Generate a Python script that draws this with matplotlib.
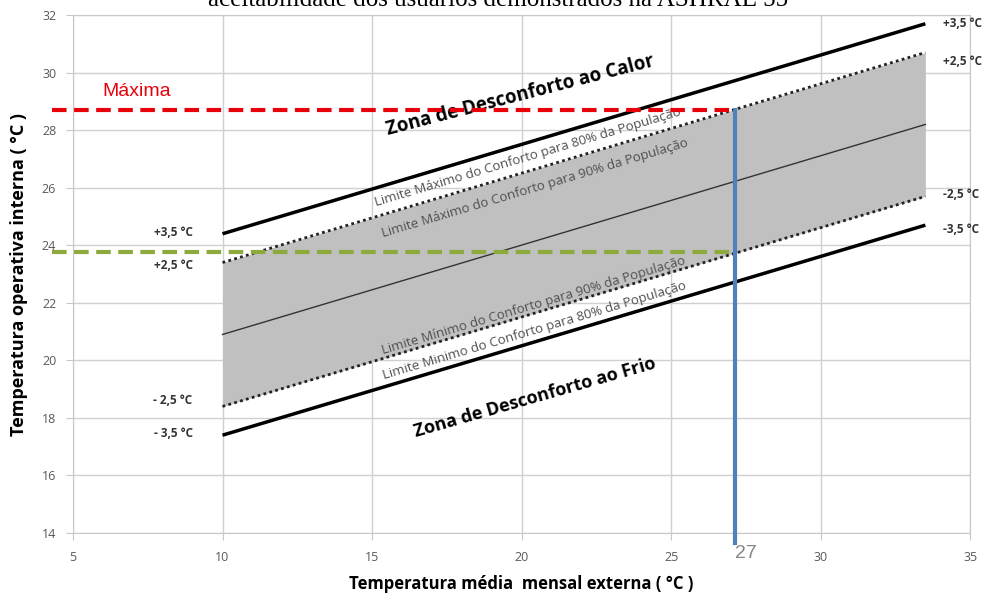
import matplotlib
matplotlib.use('Agg')
import matplotlib.pyplot as plt

# eixo x: temperatura media mensal externa
x_lim = [10, 33.5]
# limites (temperatura operativa interna)
linha_central = [20.9, 28.2]
lim_sup_80 = [24.4, 31.7]
lim_sup_90 = [23.4, 30.7]
lim_inf_90 = [18.4, 25.7]
lim_inf_80 = [17.4, 24.7]

t_maxima = 28.7
t_minima = 23.75
t_externa = 27.15

x_ticks = [5, 10, 15, 20, 25, 30, 35]
y_ticks = [14, 16, 18, 20, 22, 24, 26, 28, 30, 32]

plt.rcParams['font.family'] = ['Open Sans', 'DejaVu Sans']

fig = plt.figure(figsize=(9.86, 6.05), dpi=100)
ax = fig.add_axes([0.074, 0.119, 0.91, 0.856])

ax.fill_between(x_lim, lim_inf_90, lim_sup_90, color='#c0c0c0', lw=0, zorder=1)
ax.plot(x_lim, linha_central, color='#333333', lw=1.0, zorder=3)
ax.plot(x_lim, lim_sup_80, color='black', lw=2.5, zorder=3, solid_capstyle='butt')
ax.plot(x_lim, lim_inf_80, color='black', lw=2.5, zorder=3, solid_capstyle='butt')
ax.plot(x_lim, lim_sup_90, color='#222222', lw=2.0, ls=(0, (1, 1.2)), zorder=3)
ax.plot(x_lim, lim_inf_90, color='#222222', lw=2.0, ls=(0, (1, 1.2)), zorder=3)

# linhas de referencia
ax.plot([4.3, t_externa], [t_maxima, t_maxima], color='#e8000b', lw=3,
        ls=(0, (3.5, 1.8)), clip_on=False, zorder=5)
ax.plot([4.3, t_externa], [t_minima, t_minima], color='#8faa3c', lw=3,
        ls=(0, (3.5, 1.8)), clip_on=False, zorder=5)
ax.plot([t_externa, t_externa], [13.65, t_maxima], color='#4f81bd', lw=3,
        clip_on=False, zorder=6)

ax.text(t_externa, 13.3, '27', color='#858585', fontsize=14,
        ha='left', va='center', family=['Liberation Sans'])
ax.text(6.0, 29.36, 'Máxima', color='#e8000b', fontsize=14,
        ha='left', va='center', family=['Liberation Sans'])

# rotulos dos desvios
lbl = dict(fontsize=8.5, fontweight='bold', color='#333333', ha='right', va='center')
ax.text(9.0, 24.45, '+3,5 °C', **lbl)
ax.text(9.0, 23.3, '+2,5 °C', **lbl)
ax.text(9.0, 18.6, '- 2,5 °C', **lbl)
ax.text(9.0, 17.45, '- 3,5 °C', **lbl)
lbr = dict(fontsize=8.5, fontweight='bold', color='#333333', ha='left', va='center')
ax.text(34.1, 31.7, '+3,5 °C', **lbr)
ax.text(34.1, 30.4, '+2,5 °C', **lbr)
ax.text(34.1, 25.75, '-2,5 °C', **lbr)
ax.text(34.1, 24.55, '-3,5 °C', **lbr)

# textos inclinados
ang = 16.6
ax.text(19.95, 29.2, 'Zona de Desconforto ao Calor', fontsize=13.5, fontweight='bold',
        rotation=14.5, ha='center', va='center', rotation_mode='anchor')
ax.text(20.45, 18.7, 'Zona de Desconforto ao Frio', fontsize=13, fontweight='bold',
        rotation=16, ha='center', va='center', rotation_mode='anchor')
small = dict(fontsize=9.5, color='#505050', rotation=ang, ha='center', va='center',
             rotation_mode='anchor')
ax.text(20.2, 27.05, 'Limite Máximo do Conforto para 80% da População', **small)
ax.text(20.45, 26.0, 'Limite Máximo do Conforto para 90% da População', **small)
ax.text(20.4, 21.9, 'Limite Mínimo do Conforto para 90% da População', **small)
ax.text(20.45, 21.05, 'Limite Minimo do Conforto para 80% da População', **small)

ax.set_xlim(5, 35)
ax.set_ylim(14, 32)
ax.set_xticks(x_ticks)
ax.set_yticks(y_ticks)
ax.grid(True, color='#d0d0d0', lw=1)
ax.set_axisbelow(True)
for s in ax.spines.values():
    s.set_color('#c8c8c8')
ax.tick_params(axis='both', colors='#c8c8c8', labelcolor='#595959', labelsize=9)
ax.tick_params(axis='x', length=5, pad=8)
ax.tick_params(axis='y', length=5, pad=7)

ax.set_xlabel('Temperatura média  mensal externa ( °C )', fontsize=12,
              fontweight='bold', labelpad=8)
ax.set_ylabel('Temperatura operativa interna ( °C )', fontsize=13,
              fontweight='bold', labelpad=10)

fig.text(0.505, 1 - 6 / 605, 'aceitabilidade dos usuários demonstrados na ASHRAE 55',
         ha='center', va='baseline', fontsize=18, family=['Liberation Serif'])

fig.savefig('out.png', dpi=100)
